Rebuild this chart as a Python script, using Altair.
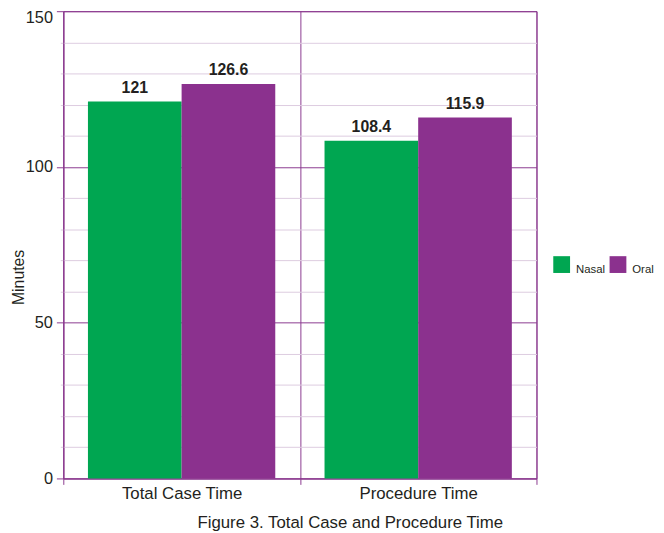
import altair as alt
import pandas as pd

categories = ["Total Case Time", "Procedure Time"]
series = ["Nasal", "Oral"]
nasal = [121, 108.4]
oral = [126.6, 115.9]
y_ticks = list(range(0, 151, 10))

rows = []
for i, c in enumerate(categories):
    for s, vals in zip(series, [nasal, oral]):
        rows.append({"category": c, "series": s, "minutes": vals[i], "label": f"{vals[i]:g}"})
df = pd.DataFrame(rows)

PURPLE = "#8b3a8f"
LIGHT = "#dccbe0"
GREEN = "#00a651"
BAR_PURPLE = "#8b318e"
FONT = "Liberation Sans"
TXT = "#231f20"
MAJOR = "datum.value % 50 === 0"
H = 473

x = alt.X(
    "category:N", sort=categories, title=None,
    scale=alt.Scale(paddingInner=0, paddingOuter=0),
    axis=alt.Axis(tickBand="extent", grid=True, gridColor=PURPLE, labelAngle=0,
                  labelFontSize=17, labelFont=FONT, labelColor=TXT, tickColor=PURPLE,
                  tickSize=6, domainColor=PURPLE, labelPadding=1),
)
xo = alt.XOffset("series:N", sort=series, scale=alt.Scale(paddingOuter=0.263, paddingInner=0))
y = alt.Y(
    "minutes:Q", scale=alt.Scale(domain=[0, 150], nice=False), title="Minutes",
    axis=alt.Axis(
        values=y_ticks,
        labelOverlap=False,
        labelExpr=MAJOR + " ? datum.label : ''",
        labelOffset=alt.condition("datum.value === 150", alt.value(6), alt.value(0)),
        gridColor=alt.condition(MAJOR, alt.value(PURPLE), alt.value(LIGHT)),
        tickColor=alt.condition(MAJOR, alt.value(PURPLE), alt.value(LIGHT)),
        tickSize=alt.condition(MAJOR, alt.value(7), alt.value(3)),
        domainColor=PURPLE,
        labelFontSize=16.5, labelFont=FONT, labelColor=TXT, labelPadding=4,
        titleFontSize=16, titleFont=FONT, titleFontWeight="normal", titleColor=TXT,
        titleX=-45, titleY=269, titleBaseline="middle", titleAngle=270,
    ),
)
color = alt.Color(
    "series:N", sort=series,
    scale=alt.Scale(domain=series, range=[GREEN, BAR_PURPLE]),
    legend=alt.Legend(orient="none", legendX=496, legendY=248, direction="horizontal", title=None,
                      symbolType="square", symbolSize=289, symbolStrokeWidth=0,
                      labelFontSize=11.5, labelFont=FONT, labelColor=TXT, labelBaseline="top",
                      labelOffset=6, columnPadding=4, padding=0),
)

base = alt.Chart(df).encode(x=x, xOffset=xo, y=y)
bars = base.mark_bar(opacity=1).encode(color=color)
labels = base.mark_text(font=FONT, fontSize=16, fontWeight="bold", dy=-9,
                        baseline="alphabetic").encode(text="label:N", color=alt.value(TXT))

chart = alt.layer(bars, labels).properties(
    width=479, height=H,
    autosize=alt.AutoSizeParams(type="none"),
    padding={"left": 56, "top": 0, "right": 121, "bottom": 52},
    title=alt.TitleParams("Figure 3. Total Case and Procedure Time", orient="bottom", anchor="middle",
                          dx=51, fontSize=17, font=FONT, fontWeight="normal", color=TXT, offset=14),
).configure_view(stroke=PURPLE, strokeWidth=1)

chart.save("out.html", embed_options={"renderer": "svg", "actions": False})
